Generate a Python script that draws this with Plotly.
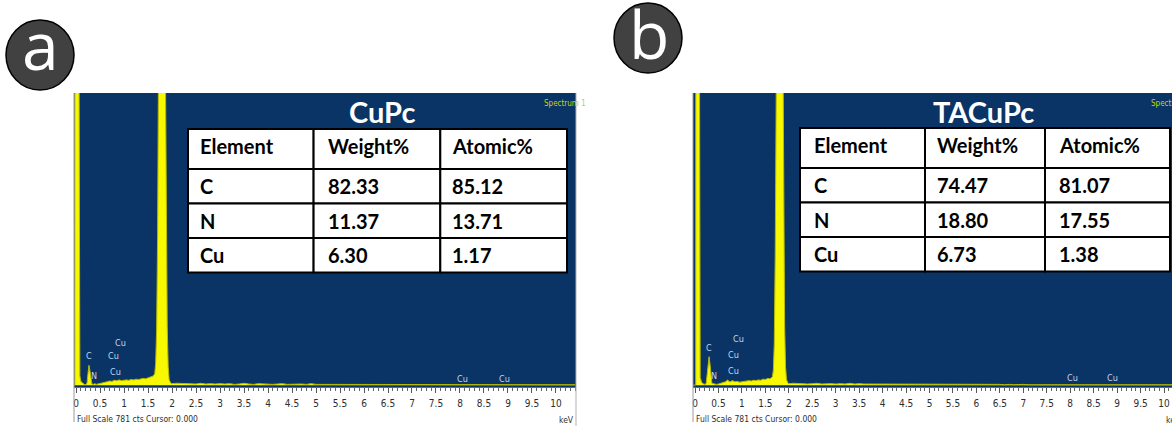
import plotly.graph_objects as go

# ---------------------------------------------------------------- data
# EDS spectrum of CuPc: low-energy part (keV, counts)
energy_a = [-0.04, -0.025, -0.02, 0.0, 0.03, 0.05, 0.065, 0.08, 0.10, 0.14, 0.18,
            0.21, 0.23, 0.25, 0.27, 0.29, 0.31, 0.33, 0.36, 0.39, 0.42, 0.46,
            0.50, 0.55, 0.60, 0.65, 0.70, 0.75, 0.80, 0.85, 0.90, 0.95, 1.00,
            1.05, 1.10, 1.15, 1.20, 1.25, 1.30, 1.35, 1.40, 1.45, 1.50, 1.55,
            1.60, 1.64, 1.66, 1.68, 1.70, 1.72, 1.74, 1.77, 1.79, 1.81, 1.84,
            1.86, 1.88, 1.90, 1.92, 1.94, 1.97, 2.00]
counts_a = [0, 0, 3000, 4000, 3500, 1500, 80, 25, 10, 4, 1,
            2, 6, 32, 53, 38, 10, 3, 2, 4, 2, 3,
            5, 6, 8, 9, 11, 10, 13, 12, 14, 12, 13,
            14, 13, 15, 14, 16, 15, 17, 18, 17, 20, 21,
            24, 30, 60, 150, 400, 900, 1500, 2100, 2200, 2100, 1500,
            900, 420, 160, 50, 15, 6, 4]
# counts from 2.1 keV to 10.4 keV, one channel group per 0.1 keV
tail_a = [5, 4, 3, 4, 3, 5, 3, 4, 3, 4,
          3, 4, 2, 3, 5, 3, 2, 4, 3, 3,
          2, 3, 4, 2, 3, 2, 3, 2, 4, 2,
          2, 3, 2, 2, 3, 2, 2, 3, 2, 2,
          2, 3, 2, 2, 2, 3, 2, 1, 2, 2,
          2, 1, 2, 2, 1, 1, 1, 1, 1, 3,
          2, 1, 1, 1, 1, 1, 1, 2, 1, 1,
          1, 1, 1, 1, 1, 1, 1, 1, 1, 1,
          1, 1, 1, 1]

# EDS spectrum of TACuPc
energy_b = [-0.04, 0.015, 0.02, 0.05, 0.07, 0.085, 0.095, 0.11, 0.14, 0.18,
            0.22, 0.24, 0.26, 0.28, 0.30, 0.32, 0.34, 0.36, 0.39, 0.42, 0.46,
            0.50, 0.55, 0.60, 0.65, 0.70, 0.72, 0.75, 0.80, 0.85, 0.90, 0.95,
            1.00, 1.05, 1.10, 1.15, 1.20, 1.25, 1.30, 1.35, 1.40, 1.45, 1.50,
            1.55, 1.60, 1.65, 1.67, 1.69, 1.71, 1.73, 1.75, 1.78, 1.80, 1.82,
            1.85, 1.87, 1.89, 1.91, 1.93, 1.95, 1.98, 2.00]
counts_b = [0, 0, 3000, 4000, 3000, 1500, 60, 20, 8, 3,
            2, 6, 30, 60, 76, 55, 20, 5, 4, 3, 2,
            3, 5, 7, 9, 14, 10, 9, 12, 9, 10, 8,
            9, 11, 10, 12, 11, 13, 12, 14, 13, 16, 15,
            18, 17, 22, 40, 110, 350, 800, 1400, 2000, 2200, 2100,
            1500, 900, 420, 160, 50, 15, 6, 4]
tail_b = [5, 4, 5, 3, 4, 5, 3, 4, 4, 3,
          4, 3, 5, 3, 4, 3, 3, 4, 2, 3,
          3, 2, 4, 3, 2, 3, 2, 3, 2, 3,
          2, 3, 2, 4, 2, 2, 3, 2, 2, 3,
          2, 2, 3, 2, 2, 1, 2, 1, 2, 2,
          1, 1, 2, 1, 1, 1, 2, 1, 1, 2,
          1, 1, 1, 1, 1, 1, 1, 2, 1, 1,
          1, 1, 1, 1, 1, 1, 1, 1, 1, 1,
          1, 1, 1, 1]
tail_energy = [round(2.1 + 0.1 * i, 1) for i in range(len(tail_a))]

# peak identification labels (text, keV, counts)
label_text = ["C", "N", "Cu", "Cu", "Cu", "Cu", "Cu"]
label_kev_a = [0.27, 0.38, 0.92, 0.78, 0.83, 8.06, 8.92]
label_cts_a = [78, 24, 112, 79, 35, 17, 17]
label_kev_b = [0.30, 0.41, 0.93, 0.83, 0.83, 8.05, 8.90]
label_cts_b = [98, 24, 124, 81, 37, 18, 20]

# composition tables
elements = ["C", "N", "Cu"]
table_header = ["Element", "Weight%", "Atomic%"]
weight_a = [82.33, 11.37, 6.30]
atomic_a = [85.12, 13.71, 1.17]
weight_b = [74.47, 18.80, 6.73]
atomic_b = [81.07, 17.55, 1.38]

sample_names = ["CuPc", "TACuPc"]
panel_letters = ["a", "b"]
tick_vals = [0.5 * i for i in range(21)]
tick_labels = ["0", "0.5", "1", "1.5", "2", "2.5", "3", "3.5", "4", "4.5", "5",
               "5.5", "6", "6.5", "7", "7.5", "8", "8.5", "9", "9.5", "10"]
full_scale = 781

# ---------------------------------------------------------------- styling
W, H = 1172, 426
BG = "#0a3466"
NARROW = "Liberation Sans Narrow, DejaVu Sans Condensed, Arial Narrow, sans-serif"
BOLD = "Lato, Liberation Sans, sans-serif"


def px(x):
    return x / W


def py(y):
    return 1 - y / H


fig = go.Figure()

spectra = [
    (energy_a + tail_energy, counts_a + tail_a, "x", "y"),
    (energy_b + tail_energy, counts_b + tail_b, "x2", "y2"),
]
for xs, ys, xa, ya in spectra:
    fig.add_trace(go.Scatter(
        x=xs, y=ys, mode="lines", fill="tozeroy",
        line=dict(color="#b9b900", width=1), fillcolor="#f8f800",
        xaxis=xa, yaxis=ya, hoverinfo="skip", showlegend=False))

axis_common = dict(
    showgrid=False, zeroline=False, showline=True, linecolor="#6a6a6a",
    linewidth=1, ticks="outside", ticklen=5, tickcolor="#555555",
    tickvals=tick_vals, ticktext=tick_labels, ticklabelstandoff=2,
    tickfont=dict(family=NARROW, size=10, color="#2e2e2e"),
    minor=dict(ticks="outside", ticklen=3, tickcolor="#666666", dtick=0.1,
               tick0=0, showgrid=False),
    fixedrange=True)
yaxis_common = dict(range=[-5, full_scale], showgrid=False, zeroline=False,
                    showticklabels=False, showline=False, ticks="",
                    fixedrange=True)
hidden = dict(visible=False, showgrid=False, zeroline=False, fixedrange=True)

layout_axes = dict(
    xaxis=dict(domain=[px(74), px(576)], range=[-0.042, 10.417],
               anchor="y", **axis_common),
    yaxis=dict(domain=[py(387), py(93)], anchor="x", **yaxis_common),
    xaxis2=dict(domain=[px(693), 1.0], range=[-0.043, 10.17],
                anchor="y2", **axis_common),
    yaxis2=dict(domain=[py(387), py(93)], anchor="x2", **yaxis_common),
)

annotations = []
shapes = []

# ---------------------------------------------------------------- tables
# each table lives on its own hidden axis pair measured in pixels
tables = [
    dict(left=188, top=129, widths=[125.6, 126.7, 126.7], pads=[10, 12, 10],
         weight=weight_a, atomic=atomic_a, ax=("x3", "y3")),
    dict(left=800, top=128, widths=[125, 120, 125], pads=[12, 10, 12],
         weight=weight_b, atomic=atomic_b, ax=("x4", "y4")),
]
row_heights = [40, 34.5, 34.5, 34.5]
edge = 1.5
for t in tables:
    xa, ya = t["ax"]
    tw, th = sum(t["widths"]), sum(row_heights)
    layout_axes["xaxis" + xa[1:]] = dict(
        domain=[px(t["left"] - edge), px(t["left"] + tw + edge)],
        range=[-edge, tw + edge], anchor=ya, **hidden)
    layout_axes["yaxis" + ya[1:]] = dict(
        domain=[py(t["top"] + th + edge), py(t["top"] - edge)],
        range=[th + edge, -edge], anchor=xa, **hidden)
    col_x = [sum(t["widths"][:i]) for i in range(4)]
    row_y = [sum(row_heights[:i]) for i in range(5)]
    rows = [table_header] + [
        [e, f"{w:.2f}", f"{a:.2f}"]
        for e, w, a in zip(elements, t["weight"], t["atomic"])]
    for r, row in enumerate(rows):
        for c, txt in enumerate(row):
            shapes.append(dict(
                type="rect", xref=xa, yref=ya, layer="below",
                x0=col_x[c], x1=col_x[c + 1], y0=row_y[r], y1=row_y[r + 1],
                fillcolor="white", line=dict(color="black", width=2)))
            ymid = (row_y[r] + row_y[r + 1]) / 2 - (3 if r == 0 else 0)
            annotations.append(dict(
                x=col_x[c] + t["pads"][c], y=ymid, xref=xa, yref=ya,
                xanchor="left", yanchor="middle", text=f"<b>{txt}</b>",
                showarrow=False,
                font=dict(family=BOLD, size=20, color="black")))

# ---------------------------------------------------------------- labels
for kevs, cts, xa, ya in [(label_kev_a, label_cts_a, "x", "y"),
                          (label_kev_b, label_cts_b, "x2", "y2")]:
    for t, k, c in zip(label_text, kevs, cts):
        annotations.append(dict(
            x=k, y=c, xref=xa, yref=ya, text=t, showarrow=False,
            xanchor="center", yanchor="middle",
            font=dict(family=NARROW, size=9, color="#c4d4ec")))

# per-panel decorations: title, spectrum tag, captions, frame, letter badge
panels = [
    dict(left=74, right=576, title_x=382, spec_x=542, circ=(40, 55),
         glyph=(40, 44)),
    dict(left=693, right=1183, title_x=983, spec_x=1149, circ=(648, 38),
         glyph=(649, 33)),
]
for name, letter, p in zip(sample_names, panel_letters, panels):
    annotations.append(dict(
        x=px(p["title_x"]), y=py(111), xref="paper", yref="paper",
        xanchor="center", yanchor="middle",
        text=f"<b>{name}</b>", showarrow=False,
        font=dict(family=BOLD, size=29, color="white")))
    annotations.append(dict(
        x=px(p["spec_x"]), y=py(103), xref="paper", yref="paper",
        xanchor="left", yanchor="middle", text="Spectrum 1", showarrow=False,
        font=dict(family=NARROW, size=8, color="#c8d400")))
    annotations.append(dict(
        x=px(p["left"] + 1), y=py(419), xref="paper", yref="paper",
        xanchor="left", yanchor="middle",
        text=f"Full Scale {full_scale} cts Cursor: 0.000",
        showarrow=False, font=dict(family=NARROW, size=8.5, color="#2e2e2e")))
    annotations.append(dict(
        x=px(p["right"]), y=py(420), xref="paper", yref="paper",
        xanchor="right", yanchor="middle", text="keV", showarrow=False,
        font=dict(family=NARROW, size=8.5, color="#2e2e2e")))
    shapes.append(dict(type="line", xref="paper", yref="paper",
                       x0=px(p["left"]), x1=px(p["left"]),
                       y0=py(93), y1=py(422),
                       line=dict(color="#9a9a9a", width=1)))
    cx, cy = p["circ"]
    shapes.append(dict(type="circle", xref="paper", yref="paper",
                       x0=px(cx - 34), x1=px(cx + 34),
                       y0=py(cy + 35), y1=py(cy - 35),
                       fillcolor="#414141", line=dict(color="black", width=1.5)))
    gx, gy = p["glyph"]
    annotations.append(dict(
        x=px(gx), y=py(gy), xref="paper", yref="paper", text=letter,
        xanchor="center", yanchor="middle", showarrow=False,
        font=dict(family="Open Sans, Liberation Sans, sans-serif",
                  size=66, color="white")))

shapes.append(dict(type="line", xref="paper", yref="paper",
                   x0=px(576), x1=px(576), y0=py(93), y1=py(426),
                   line=dict(color="#b0b0b0", width=1)))

fig.update_layout(
    width=W, height=H, margin=dict(l=0, r=0, t=0, b=0),
    paper_bgcolor="white", plot_bgcolor=BG, showlegend=False,
    annotations=annotations, shapes=shapes, **layout_axes)
fig.write_html("out.html")
